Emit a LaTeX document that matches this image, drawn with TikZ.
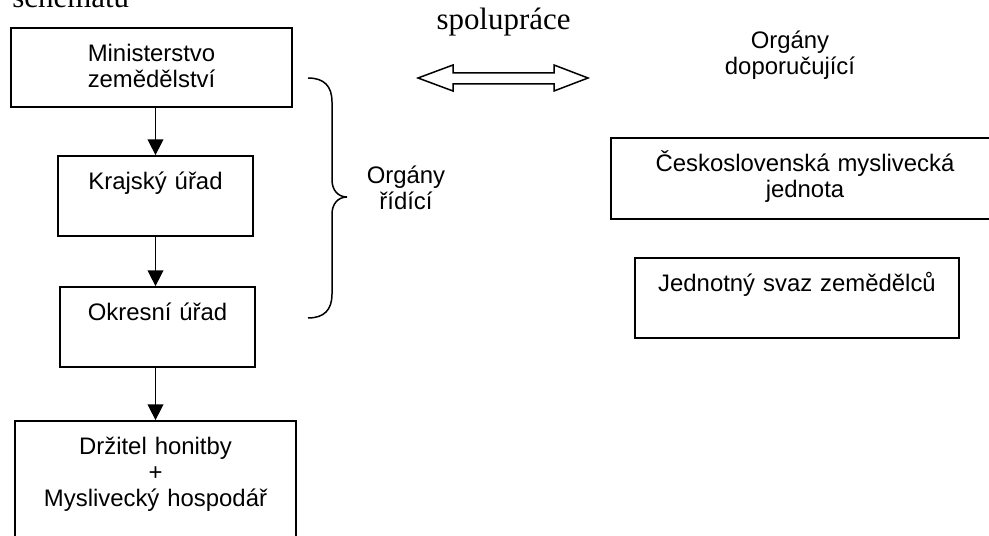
\documentclass[tikz,border=0pt]{standalone}
\usepackage{fontspec}
\setmainfont{Liberation Serif}
\setsansfont{Liberation Sans}
\usetikzlibrary{arrows.meta}

\begin{document}
\begin{tikzpicture}[x=0.02cm, y=-0.02cm]
      \tikzstyle{box}=[draw, line width=1pt, inner sep=0pt];
      \tikzstyle{boxtext}=[anchor=base, inner sep=0pt, text width=7cm, align=center, yshift=-0.68cm, font=\sffamily\fontsize{13.6}{14.8}\selectfont];
      \tikzstyle{txt}=[inner sep=0pt, align=center, font=\sffamily\fontsize{13.6}{14.8}\selectfont];
      \tikzstyle{serif}=[inner sep=0pt, font=\rmfamily\fontsize{17.6}{20}\selectfont];
      \tikzstyle{arr}=[line width=0.8pt, -{Triangle[length=9pt, width=9pt]}];

      \useasboundingbox (0,0) rectangle (989,536);
      \clip (0,0) rectangle (989,536);

      % left column
      \node[box, minimum width=5.62cm, minimum height=1.58cm, label={[boxtext]north:Ministerstvo\\zemědělství}] (min) at (151.5,67.5) {};
      \node[box, minimum width=3.9cm, minimum height=1.6cm, label={[boxtext]north:Krajský úřad}] (kraj) at (155.5,196) {};
      \node[box, minimum width=3.9cm, minimum height=1.6cm, label={[boxtext]north:Okresní úřad}] (okres) at (157.5,327) {};
      \node[box, minimum width=5.62cm, minimum height=2.48cm, label={[boxtext]north:Držitel honitby\\+\\Myslivecký hospodář}] (drzitel) at (155.5,483) {};

      \draw[arr] (min.south -| kraj.north) -- (kraj.north);
      \draw[arr] (kraj.south) -- (kraj.south |- okres.north);
      \draw[arr] (okres.south -| drzitel.north) -- (drzitel.north);

      % brace
      \draw[line width=0.85pt] (308,78) .. controls (324,78) and (332,86) .. (332,102) -- (332,180)
        .. controls (332,190) and (338,197) .. (347,197)
        .. controls (338,197) and (332,204) .. (332,214) -- (332,294)
        .. controls (332,310) and (324,318) .. (308,318);
      \node[txt] (ridici) at (406,188) {Orgány\\řídící};

      % spoluprace
      \node[serif, anchor=base west] (schema) at (12,7.5) {schématu};
      \node[serif, anchor=base] (spoluprace) at (503.5,30) {spolupráce};
      \draw[line width=0.85pt] (418,78) -- (453,65) -- (453,73) -- (554,73) -- (554,65) -- (588,78)
        -- (554,91) -- (554,84) -- (453,84) -- (453,91) -- cycle;

      % right column
      \node[txt] (doporucujici) at (790,55) {Orgány\\doporučující};
      \node[box, minimum width=7.76cm, minimum height=1.62cm, label={[boxtext]north:Československá myslivecká\\jednota}] (cmj) at (805,178.5) {};
      \node[box, minimum width=6.48cm, minimum height=1.6cm, label={[boxtext]north:Jednotný svaz zemědělců}] (jsz) at (797,298) {};
\end{tikzpicture}
\end{document}
